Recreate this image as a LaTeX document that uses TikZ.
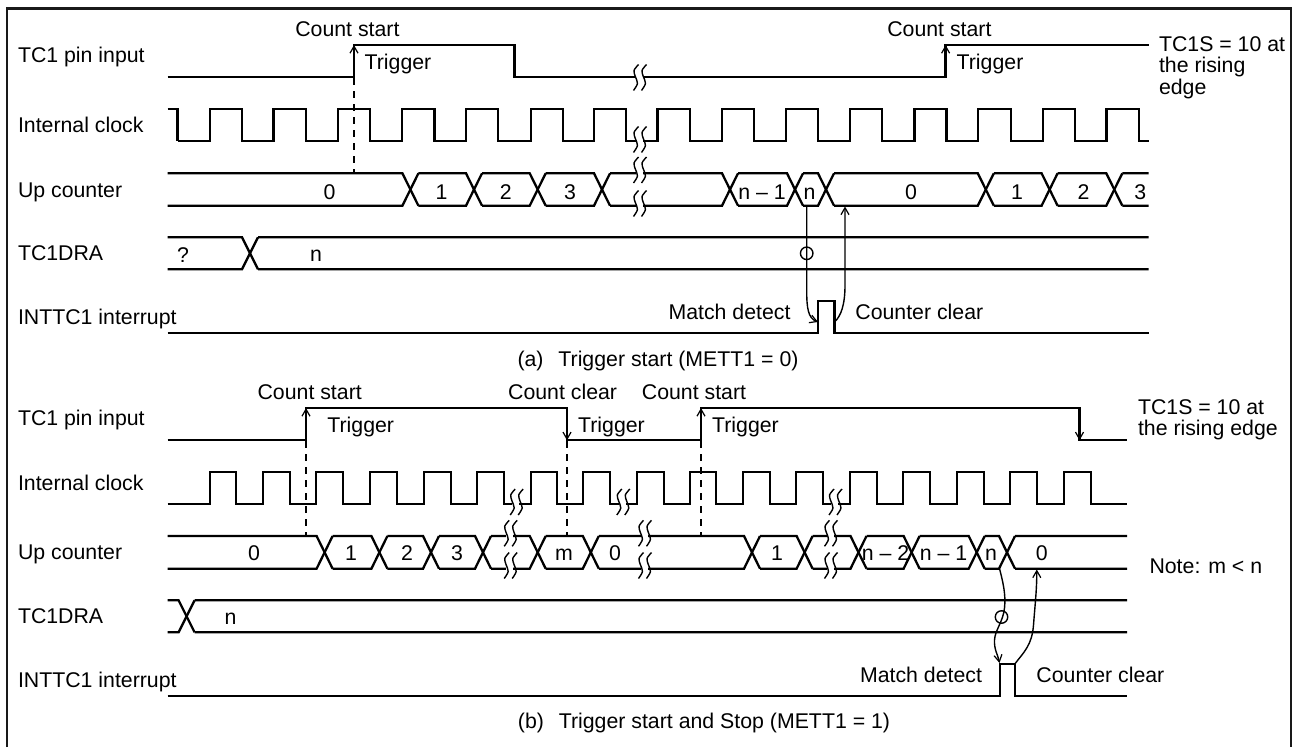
\documentclass[tikz,border=0pt]{standalone}
\usepackage{fontspec}
\setmainfont{Liberation Sans}
\usetikzlibrary{arrows.meta}
\tikzset{
  sig/.style={line width=2.3pt,line join=miter,line cap=butt},
  frameline/.style={line width=2.2pt,draw=black!90},
  arr/.style={line width=1.4pt,-{Straight Barb[length=7pt,width=8pt,line width=1.2pt]}},
  dsh/.style={line width=1.4pt,dash pattern=on 7pt off 6pt},
  txt/.style={inner sep=0pt,outer sep=0pt,text height=15pt,text depth=0pt,font=\fontsize{21.3}{21.3}\selectfont},
  lab/.style={txt,anchor=west},
  wav/.style={line width=1.4pt},
  ring/.style={draw,circle,inner sep=0pt,minimum size=12.5pt,line width=1.4pt}
}
\newcommand\bus[5]{%
  \draw[sig] (#3,#1) foreach \t in {#5} { -- ({\t-8},#1) -- ({\t+8},#2) ({\t+8},#1) } -- (#4,#1);
  \draw[sig] (#3,#2) foreach \t in {#5} { -- ({\t-8},#2) -- ({\t+8},#1) ({\t+8},#2) } -- (#4,#2);
}
\newcommand\clk[5]{% hi lo start end rise/fall list
  \draw[sig] (#3,#2) foreach \r/\f in {#5} { -- (\r,#2) -- (\r,#1) -- (\f,#1) -- (\f,#2) } -- (#4,#2);
}
\newcommand\brk[2]{%
  \begin{scope}[shift={(#1,#2)}]
    \fill[white] (0.5,-8) rectangle (7.5,8);
    \foreach \d in {0,8}
      \draw[wav] plot[smooth] coordinates {({\d+3.5},-13) ({\d-1},-7) ({\d+0.3},-1) ({\d+2.5},6) ({\d-1.5},13)};
  \end{scope}
}
\begin{document}
\begin{tikzpicture}[x=1pt,y=-1pt]
\useasboundingbox (0,0) rectangle (1295,747);
\fill[white] (0,0) rectangle (1295,747);
\draw[frameline] (7,747) -- (7,8.5) -- (1291,8.5) -- (1291,747);

% ---------- (a)
\node[lab] (la1) at (18,55) {TC1 pin input};
\node[lab] (la2) at (18,125) {Internal clock};
\node[lab] (la3) at (18,189.5) {Up counter};
\node[lab] (la4) at (18,253) {TC1DRA};
\node[lab] (la5) at (18,316.7) {INTTC1 interrupt};

\draw[sig] (167.5,77.3) -- (354,77.3) -- (354,45) -- (514.5,45) -- (514.5,77.3) -- (945.6,77.3) -- (945.6,45) -- (1148.7,45);
\draw[sig] (167.5,109) -- (177.5,109) -- (177.5,141.3);
\clk{109}{141.3}{177.5}{1148.7}{209.8/242,273.6/306,338/370,402/434.5,466/498,530.7/563,594/626,657.4/689.8,721.7/754,786/818,850/882,914.5/946.4,978/1010.7,1043/1075,1106.4/1138.8}
\bus{173.3}{205.7}{167.5}{1148.7}{410.4,474,537.7,602,730,795,826,985.8,1049.6,1114.3}
\bus{237.3}{269.3}{167.5}{1148.7}{250}
\draw[sig] (167.5,333.3) -- (818,333.3) -- (818,301) -- (834.5,301) -- (834.5,333.3) -- (1148.7,333.3);

\brk{635}{77.5}
\brk{635}{139.5}
\brk{635}{170}
\brk{635}{203.5}

\coordinate (ae1) at (354,77.3);
\coordinate (at1) at (354,45);
\coordinate (ae2) at (945.6,77.3);
\coordinate (at2) at (945.6,45);
\draw[arr] (ae1) -- (at1);
\draw[arr] (ae2) -- (at2);
\coordinate (adl) at (354,78);
\coordinate (adu) at (354,173);
\draw[dsh] (adl) -- (adu);

\node[txt] (acs1) at (347.4,29) {Count start};
\node[txt] (atr1) at (398,61.5) {Trigger};
\node[txt] (acs2) at (939.4,29) {Count start};
\node[txt] (atr2) at (990,61.5) {Trigger};
\node[lab] (ats1) at (1159,44.2) {TC1S = 10 at};
\node[lab] (ats2) at (1159,65) {the rising};
\node[lab] (ats3) at (1159,87) {edge};

\foreach \x/\s in {329.6/0,441.5/1,505.8/2,570/3,762/{n – 1},809.6/n,911/0,1017/1,1083.6/2,1140.4/3}
  \node[txt] at (\x,191.7) {\s};
\node[txt] (aq) at (183,254.8) {?};
\node[txt] (an) at (316,254) {n};

\node[ring] (acirc) at (806.7,253.3) {};
\coordinate (am1) at (806.7,205.7);
\coordinate (am2) at (818,322);
\draw[arr] (am1) -- (806.7,290) .. controls (806.7,308) and (808,318) .. (am2);
\coordinate (ac1) at (834.5,322);
\coordinate (ac2) at (845,206.5);
\draw[arr] (ac1) .. controls (841,316) and (845,305) .. (845,285) -- (ac2);
\node[txt] (amd) at (729.5,311.5) {Match detect};
\node[txt] (acc) at (919.3,311.5) {Counter clear};
\node[txt] (acap) at (658,359) {(a)\hspace{0.7em}Trigger start (METT1 = 0)};

% ---------- (b)
\node[lab] (lb1) at (18,418) {TC1 pin input};
\node[lab] (lb2) at (18,483) {Internal clock};
\node[lab] (lb3) at (18,552) {Up counter};
\node[lab] (lb4) at (18,615.5) {TC1DRA};
\node[lab] (lb5) at (18,679.7) {INTTC1 interrupt};

\draw[sig] (167.5,440.3) -- (306,440.3) -- (306,408) -- (567,408) -- (567,440.3) -- (701,440.3) -- (701,408) -- (1079.5,408) -- (1079.5,440.3) -- (1127,440.3);
\clk{471.7}{504.3}{167.5}{1127}{209.8/236.3,263.3/290,316/343,370/397,423.7/450.7,476.8/503.7,530.7/556.8,583.3/610.3,637/663.7,689.8/716.3,743/770,796/823,850/877,903/930,957/983.7,1009.8/1036.8,1063.7/1090.7}
\bus{536}{568.7}{167.5}{1127}{324.6,379.4,431,483,537.7,590.8,752,804.6,858.5,911.6,976.7,1007}
\bus{600.3}{632.3}{167.5}{1127}{186.6}
\draw[sig] (167.5,696) -- (1000,696) -- (1000,663.7) -- (1015,663.7) -- (1015,696) -- (1127,696);

\brk{511.7}{502}
\brk{505.7}{533.3}
\brk{505.7}{565.5}
\brk{618.3}{502}
\brk{640}{533.3}
\brk{640}{565.5}
\brk{830.5}{502}
\brk{826}{533.3}
\brk{826}{565.5}

\coordinate (be1) at (306,440.3);
\coordinate (bt1) at (306,408);
\coordinate (be2) at (567,408);
\coordinate (bt2) at (567,440.3);
\coordinate (be3) at (701,440.3);
\coordinate (bt3) at (701,408);
\coordinate (be4) at (1079.5,408);
\coordinate (bt4) at (1079.5,440.3);
\draw[arr] (be1) -- (bt1);
\draw[arr] (be2) -- (bt2);
\draw[arr] (be3) -- (bt3);
\draw[arr] (be4) -- (bt4);
\coordinate (bd1) at (306,441);
\coordinate (bu1) at (306,536);
\coordinate (bd2) at (567,441);
\coordinate (bu2) at (567,536);
\coordinate (bd3) at (701,441);
\coordinate (bu3) at (701,536);
\draw[dsh] (bd1) -- (bu1);
\draw[dsh] (bd2) -- (bu2);
\draw[dsh] (bd3) -- (bu3);

\node[txt] (bcs1) at (309.7,392) {Count start};
\node[txt] (bcc) at (562.6,392) {Count clear};
\node[txt] (bcs2) at (694,392) {Count start};
\node[txt] (btr1) at (360.7,424.5) {Trigger};
\node[txt] (btr2) at (611.5,424.5) {Trigger};
\node[txt] (btr3) at (745.5,424.5) {Trigger};
\node[lab] (bts1) at (1138,406.8) {TC1S = 10 at};
\node[lab] (bts2) at (1138,427.8) {the rising edge};
\node[lab] (bnote) at (1149.5,566.2) {Note: m < n};

\foreach \x/\s in {254/0,351/1,407/2,457/3,564/m,615/0,777/1,885.5/{n – 2},943.5/{n – 1},991/n,1041.8/0}
  \node[txt] at (\x,553) {\s};
\node[txt] (bn) at (230.5,617) {n};

\node[ring] (bcirc) at (1001.5,617) {};
\coordinate (bm1) at (999.5,568.7);
\coordinate (bm2) at (999.5,663);
\draw[arr] (bm1) .. controls (1003,582) and (1006,595) .. (1004.5,608) .. controls (1003,622) and (995,630) .. (994.5,640) .. controls (994,650) and (998,655) .. (bm2);
\coordinate (bc1) at (1015,663.7);
\coordinate (bc2) at (1036.8,569.5);
\draw[arr] (bc1) .. controls (1024,652) and (1032,645) .. (1033.5,625) .. controls (1035,605) and (1036.8,590) .. (bc2);
\node[txt] (bmd) at (921,674.5) {Match detect};
\node[txt] (bcl) at (1100.4,674.5) {Counter clear};
\node[txt] (bcap) at (704,721) {(b)\hspace{0.7em}Trigger start and Stop (METT1 = 1)};
\end{tikzpicture}
\end{document}
